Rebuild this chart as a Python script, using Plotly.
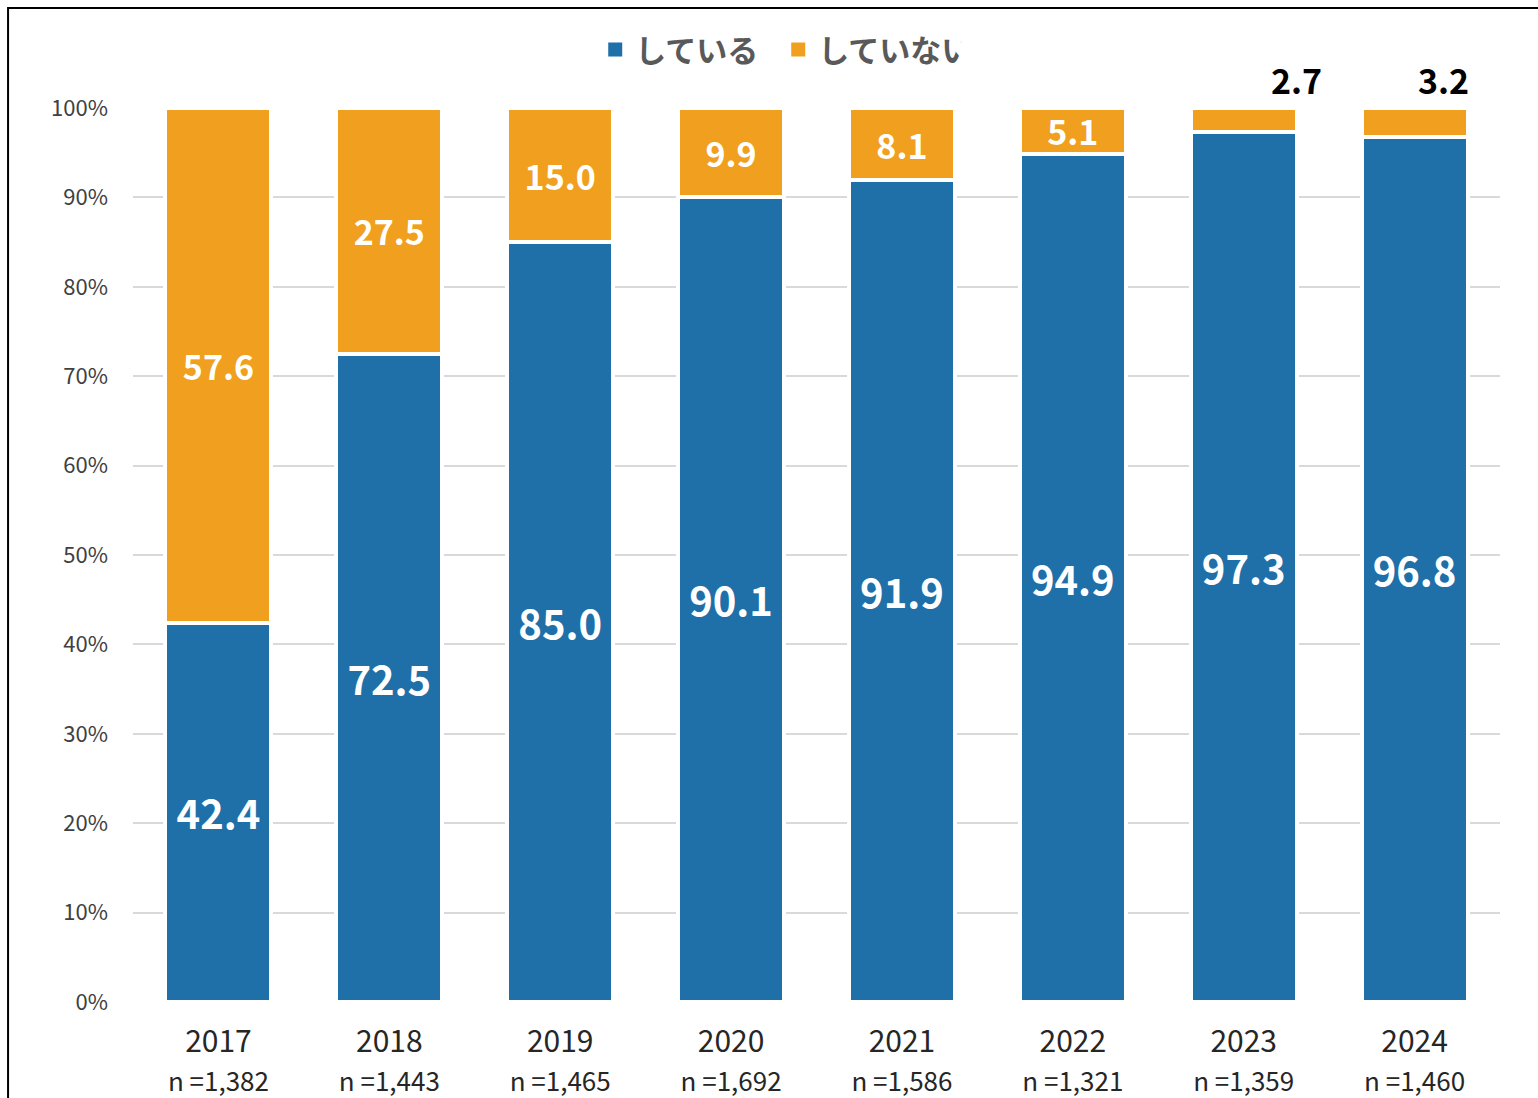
import plotly.graph_objects as go

years = ["2017", "2018", "2019", "2020", "2021", "2022", "2023", "2024"]
n_counts = ["1,382", "1,443", "1,465", "1,692", "1,586", "1,321", "1,359", "1,460"]
doing = [42.4, 72.5, 85.0, 90.1, 91.9, 94.9, 97.3, 96.8]
not_doing = [57.6, 27.5, 15.0, 9.9, 8.1, 5.1, 2.7, 3.2]
y_ticks = [0, 10, 20, 30, 40, 50, 60, 70, 80, 90, 100]
series_names = ["している", "していない"]

# labels drawn outside (above) the bar, with their horizontal pixel offsets
outside_label_xshift = {"2023": 53, "2024": 29}

BLUE = "#1F6FA9"
ORANGE = "#F19F1E"
FONT = "Noto Sans CJK JP"

fig = go.Figure()
fig.add_trace(go.Bar(
    x=years, y=doing, name=series_names[0], showlegend=False,
    marker=dict(color=BLUE, line=dict(color="white", width=4)),
    text=[f"{v:.1f}" for v in doing], textposition="inside",
    insidetextanchor="middle", constraintext="none",
    textfont=dict(color="white", size=40, family=FONT, weight="bold"),
))
fig.add_trace(go.Bar(
    x=years, y=not_doing, name=series_names[1], showlegend=False,
    marker=dict(color=ORANGE, line=dict(color="white", width=4)),
    text=[("" if yr in outside_label_xshift else f"{v:.1f}") for yr, v in zip(years, not_doing)],
    textposition="inside", insidetextanchor="middle", constraintext="none",
    textfont=dict(color="white", size=34, family=FONT, weight="bold"),
))

# legend entries with larger square symbols
for name, col in zip(series_names, [BLUE, ORANGE]):
    fig.add_trace(go.Scatter(
        x=[None], y=[None], mode="markers", name=name,
        marker=dict(symbol="square", size=14, color=col),
    ))

for i, (yr, v, d) in enumerate(zip(years, not_doing, doing)):
    if yr in outside_label_xshift:
        fig.add_annotation(x=i, y=d + v, text=f"{v:.1f}", showarrow=False,
                           xshift=outside_label_xshift[yr], yshift=2, yanchor="bottom",
                           font=dict(color="black", size=34, family=FONT, weight="bold"))

ticktext = [f"{y}<br><span style='font-size:26px'>n ={n}</span>" for y, n in zip(years, n_counts)]

fig.update_layout(
    width=1538, height=1098,
    margin=dict(l=133, r=38, t=108, b=96, autoexpand=False),
    barmode="stack", bargap=0.38,
    plot_bgcolor="white", paper_bgcolor="white",
    font=dict(family=FONT),
    legend=dict(orientation="h", x=0.472, xanchor="center", y=1.065, yanchor="middle",
                font=dict(size=31, color="#595959", family=FONT, weight="bold"),
                traceorder="normal", itemwidth=30, tracegroupgap=0,
                entrywidth=138, entrywidthmode="pixels"),
    xaxis=dict(type="category", range=[-0.5, len(years) - 0.5],
               tickmode="array", tickvals=years, ticktext=ticktext,
               tickangle=0, automargin=False,
               tickfont=dict(size=30, color="#262626", family=FONT),
               showgrid=False, showline=False, zeroline=False, ticklabelstandoff=19),
    yaxis=dict(range=[0, 100], tickvals=y_ticks, ticktext=[f"{t}%" for t in y_ticks],
               automargin=False,
               tickfont=dict(size=22, color="#404040", family=FONT),
               showgrid=True, gridcolor="#D9D9D9", gridwidth=2, zeroline=False,
               ticklabelstandoff=24),
    shapes=[dict(type="rect", xref="paper", yref="paper",
                 x0=-0.0914, x1=1.04, y0=-0.12, y1=1.1119,
                 line=dict(color="black", width=2), layer="below")],
)

fig.write_html("out.html", config={"displayModeBar": False},
               post_script="document.body.style.margin='0';")
